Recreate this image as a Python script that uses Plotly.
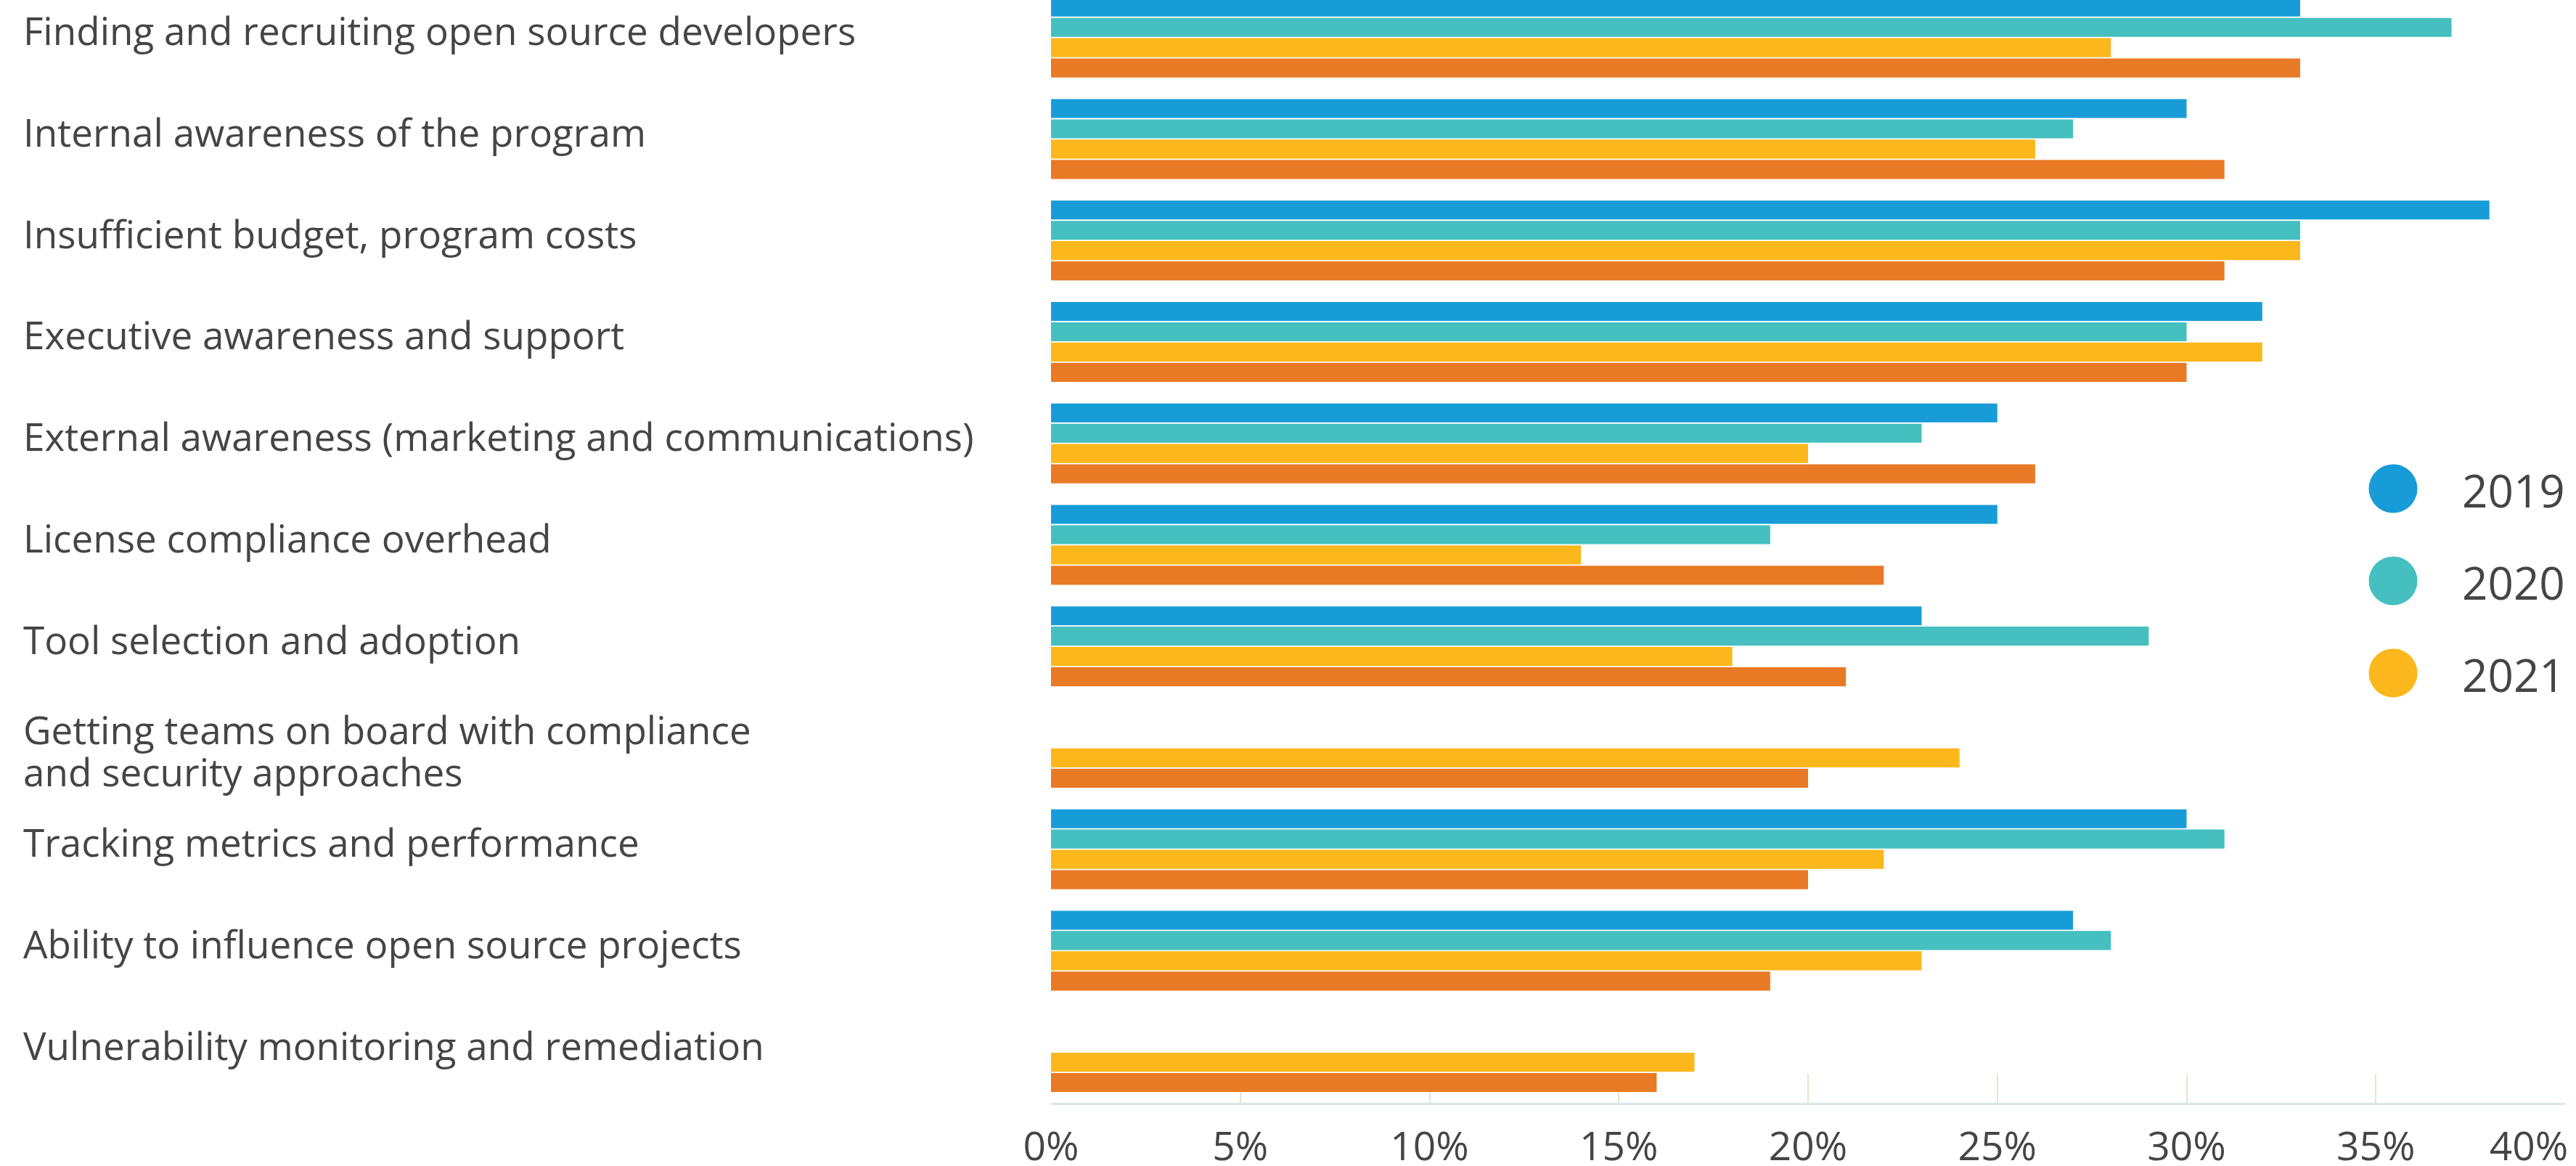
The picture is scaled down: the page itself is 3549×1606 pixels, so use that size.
import plotly.graph_objects as go

categories = [
    "Finding and recruiting open source developers",
    "Internal awareness of the program",
    "Insufficient budget, program costs",
    "Executive awareness and support",
    "External awareness (marketing and communications)",
    "License compliance overhead",
    "Tool selection and adoption",
    "Getting teams on board with compliance<br>and security approaches",
    "Tracking metrics and performance",
    "Ability to influence open source projects",
    "Vulnerability monitoring and remediation",
]
series_names = ["2019", "2020", "2021", "2022"]
v2019 = [33, 30, 38, 32, 25, 25, 23, 0, 30, 27, 0]
v2020 = [37, 27, 33, 30, 23, 19, 29, 0, 31, 28, 0]
v2021 = [28, 26, 33, 32, 20, 14, 18, 24, 22, 23, 17]
v2022 = [33, 31, 31, 30, 26, 22, 21, 20, 20, 19, 16]
series_values = [v2019, v2020, v2021, v2022]
colors = ["#189CD8", "#45BFBF", "#FBB71C", "#E97A25"]
legend_names = ["2019", "2020", "2021"]
tick_values = [0, 5, 10, 15, 20, 25, 30, 35, 40]
tick_labels = ["0%", "5%", "10%", "15%", "20%", "25%", "30%", "35%", "40%"]

FONT = "Open Sans"
TXT = "#454545"

W, H = 3549, 1606
ML, MR, MT, MB = 1448, 15, 0, 87
plot_w = W - ML - MR
plot_h = H - MT - MB

fig = go.Figure()
for name, vals, col in zip(series_names, series_values, colors):
    fig.add_trace(go.Bar(
        y=categories, x=vals, orientation="h", name=name,
        marker=dict(color=col, line=dict(width=0)), showlegend=False,
    ))

# last tick label nudged inside the page like the reference
tick_text = list(tick_labels)
tick_text[-1] = tick_text[-1] + "\u00a0" * 7

annotations = []
label_x = (30 - ML) / plot_w
LINE = 58
for i, cat in enumerate(categories):
    lines = cat.split("<br>")
    n = len(lines)
    base = 10 if n == 1 else -4
    for j, line in enumerate(lines):
        shift = base + ((n - 1) / 2 - j) * LINE
        annotations.append(dict(
            x=label_x, xref="paper", y=i, yref="y", text=line,
            xanchor="left", yanchor="middle", showarrow=False, yshift=shift,
            font=dict(family=FONT, size=53, color=TXT), align="left",
        ))

shapes = []
leg_cx = (3297 - ML) / plot_w
leg_tx = (3390 - ML) / plot_w
leg_ys = [673, 800, 927]
for name, col, py in zip(legend_names, colors, leg_ys):
    yp = 1 - (py - MT) / plot_h
    shapes.append(dict(
        type="circle", xref="paper", yref="paper", xsizemode="pixel", ysizemode="pixel",
        xanchor=leg_cx, yanchor=yp, x0=-33.5, x1=33.5, y0=-33.5, y1=33.5,
        fillcolor=col, line=dict(width=0),
    ))
    annotations.append(dict(
        x=leg_tx, xref="paper", y=yp, yref="paper", text=name,
        xanchor="left", yanchor="middle", showarrow=False, yshift=-2,
        font=dict(family=FONT, size=62, color=TXT),
    ))

fig.update_layout(
    template="none",
    width=W, height=H,
    margin=dict(l=ML, r=MR, t=MT, b=MB, pad=0, autoexpand=False),
    paper_bgcolor="white", plot_bgcolor="white",
    barmode="group", bargap=0.20, bargroupgap=0.065,
    font=dict(family=FONT, color=TXT),
    showlegend=False,
    xaxis=dict(
        range=[0, 40], tickvals=tick_values, ticktext=tick_text,
        tickfont=dict(family=FONT, size=55, color=TXT),
        ticks="inside", ticklen=40, tickwidth=2, tickcolor="#e9e3cc",
        showline=True, linecolor="#d8e7e7", linewidth=3,
        showgrid=False, zeroline=False, layer="below traces",
        ticklabelstandoff=10, ticklabeloverflow="allow", fixedrange=True,
        automargin=False,
    ),
    yaxis=dict(
        type="category", categoryorder="array", categoryarray=categories,
        range=[10.5, -0.37], showticklabels=False, ticks="",
        showgrid=False, zeroline=False, showline=False, fixedrange=True,
        automargin=False,
    ),
    annotations=annotations, shapes=shapes,
)

fig.write_html(
    "out.html",
    config={"displayModeBar": False},
    post_script="document.body.style.margin='0px';document.body.style.overflow='hidden';",
)
